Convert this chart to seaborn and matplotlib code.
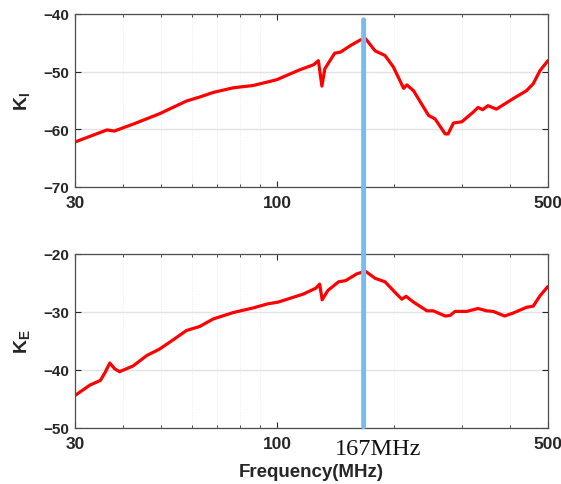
import numpy as np
import pandas as pd
import matplotlib
matplotlib.use("Agg")
import matplotlib.pyplot as plt
import seaborn as sns
from matplotlib.patches import ConnectionPatch
from matplotlib.ticker import FixedLocator, NullFormatter

# K_I (top panel)
freq_i = [30, 36.3, 37.9, 42.4, 49.6, 58.2, 63, 68.3, 76.9, 86.6, 99.6, 114, 124,
          127.6, 130.3, 132.6, 140.6, 145.7, 154.2, 163.8, 169, 178.9, 189.7, 199.4,
          211.9, 216, 224.7, 245.8, 255.5, 271.3, 276, 285, 299.4, 320.8, 330, 339,
          350, 368, 406, 440, 458, 477, 500]
k_i = [-62.2, -60.1, -60.3, -59.1, -57.3, -55.1, -54.4, -53.6, -52.8, -52.4, -51.4,
       -49.7, -48.8, -48.1, -52.5, -49.5, -46.8, -46.6, -45.5, -44.5, -44.3, -46.4,
       -47.2, -49.2, -52.9, -52.3, -53.3, -57.6, -58.2, -60.8, -60.8, -58.9, -58.7,
       -57.0, -56.2, -56.6, -55.9, -56.5, -54.7, -53.3, -52.1, -49.8, -48.1]

# K_E (bottom panel)
freq_e = [30, 32.8, 34.9, 35.9, 36.9, 38.0, 39.1, 42.4, 46, 49.6, 53.8, 58.2, 63,
          68.3, 76.9, 86.6, 94.4, 100.5, 116.8, 125.7, 128.6, 130.5, 135, 143.9, 150,
          160.7, 169, 178.9, 189.7, 203.2, 209.7, 215, 224.7, 243.4, 252.8, 271.3,
          279.5, 287.6, 308.6, 330, 347, 361, 386.4, 406, 440, 458, 477, 500]
k_e = [-44.4, -42.6, -41.8, -40.4, -38.8, -39.8, -40.3, -39.3, -37.5, -36.4, -34.8,
       -33.2, -32.5, -31.2, -30.1, -29.3, -28.6, -28.3, -26.9, -25.9, -25.2, -27.9,
       -26.3, -24.8, -24.6, -23.4, -23.0, -24.2, -24.8, -26.9, -27.8, -27.3, -28.3,
       -29.8, -29.8, -30.7, -30.6, -29.9, -29.9, -29.4, -29.8, -29.9, -30.7, -30.2,
       -29.2, -29.0, -27.2, -25.6]

marker_freq = 167
x_ticks = [30, 100, 500]
x_minor = [40, 50, 60, 70, 80, 90, 200, 300, 400]

sns.set_style("ticks")
plt.rcParams['font.family'] = ['Liberation Sans', 'DejaVu Sans']
plt.rcParams['mathtext.fontset'] = 'custom'
plt.rcParams['mathtext.bf'] = 'Liberation Sans:bold'
plt.rcParams['mathtext.rm'] = 'Liberation Sans:bold'

df_i = pd.DataFrame({'freq': freq_i, 'k': k_i})
df_e = pd.DataFrame({'freq': freq_e, 'k': k_e})

fig = plt.figure(figsize=(5.61, 4.85), dpi=100)
ax1 = fig.add_axes([0.1337, 0.6124, 0.8431, 0.3567])
ax2 = fig.add_axes([0.1337, 0.1155, 0.8431, 0.3588])

edge = '#262626'
for ax, df, ylim, label in [(ax1, df_i, (-70, -40), r'$\mathbf{K_I}$'),
                            (ax2, df_e, (-50, -20), r'$\mathbf{K_E}$')]:
    sns.lineplot(data=df, x='freq', y='k', ax=ax, color='#ff0000', lw=2.3)
    ax.set_xscale('log')
    ax.set_xlim(30, 500)
    ax.set_ylim(*ylim)
    ax.set_yticks(np.arange(ylim[0], ylim[1] + 1, 10))
    ax.xaxis.set_major_locator(FixedLocator(x_ticks))
    ax.xaxis.set_minor_locator(FixedLocator(x_minor))
    ax.xaxis.set_minor_formatter(NullFormatter())
    ax.set_xticklabels([str(t) for t in x_ticks])
    ax.grid(True, which='major', axis='y', color='#e3e3e3', lw=1)
    ax.grid(True, which='minor', axis='x', color='#ececec', lw=0.7, ls=':')
    ax.tick_params(which='both', direction='in', top=True, right=True, color=edge)
    ax.tick_params(axis='y', labelsize=11, pad=4)
    ax.tick_params(axis='x', labelsize=12.5, pad=6)
    ax.tick_params(which='major', length=4)
    ax.tick_params(which='minor', length=2.5)
    for lab in ax.get_xticklabels() + ax.get_yticklabels():
        lab.set_fontweight('bold')
        lab.set_color(edge)
    for s in ax.spines.values():
        s.set_color('#4d4d4d')
        s.set_linewidth(0.9)
    ax.set_ylabel(label, fontsize=14, color=edge, labelpad=8)
    ax.set_xlabel('')

ax2.set_xlabel('Frequency(MHz)', fontsize=13.5, fontweight='bold', color=edge, labelpad=8.5)

con = ConnectionPatch(xyA=(marker_freq, -41), coordsA=ax1.transData,
                      xyB=(marker_freq, -49.8), coordsB=ax2.transData,
                      color='#7fb8ea', lw=3.5, zorder=10)
fig.add_artist(con)

fig.text(0.674, 0.074, f'{marker_freq}MHz', fontsize=17.5, family='Liberation Serif',
         color='#111111', ha='center', va='center')

fig.savefig('out.png', dpi=100)
